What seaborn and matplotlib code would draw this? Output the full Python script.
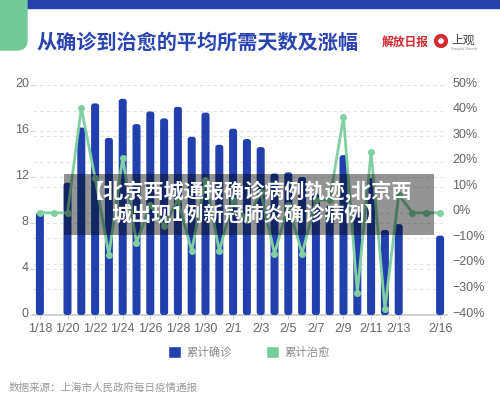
import numpy as np
import pandas as pd
import seaborn as sns
import matplotlib.pyplot as plt
from matplotlib.patches import Rectangle, FancyBboxPatch, Circle, Patch
from matplotlib.lines import Line2D
from matplotlib.transforms import blended_transform_factory, ScaledTranslation

# data
dates = ["1/18", "1/19", "1/20", "1/21", "1/22", "1/23", "1/24", "1/25", "1/26", "1/27",
         "1/28", "1/29", "1/30", "1/31", "2/1", "2/2", "2/3", "2/4", "2/5", "2/6",
         "2/7", "2/8", "2/9", "2/10", "2/11", "2/12", "2/13", "2/14", "2/15", "2/16"]
confirm_days = [8.9, np.nan, 11.5, 16.3, 18.4, 15.4, 18.8, 16.6, 17.7, 17.1,
                18.1, 15.5, 17.6, 14.8, 16.2, 15.3, 14.6, 12.3, 12.4, 12.0,
                10.5, 9.5, 13.9, 9.0, 11.9, 7.4, 7.9, np.nan, np.nan, 6.9]
cure_change = [0, 0, 0, 41, 13.6, -16.5, 21.4, -11.7, 3, -5,
               5, -15, 13, -15, 5, -3, 8, -16, 3, -16,
               5, 5, 37.5, -31.4, 23.8, -37.6, 7, 0, 0, 0]
shown_dates = ["1/18", "1/20", "1/22", "1/24", "1/26", "1/28", "1/30", "2/1", "2/3",
               "2/5", "2/7", "2/9", "2/11", "2/13", "2/16"]
left_ticks = [0, 4, 8, 12, 16, 20]
right_ticks = [-40, -30, -20, -10, 0, 10, 20, 30, 40, 50]

title = "从确诊到治愈的平均所需天数及涨幅"
series_names = ["累计确诊", "累计治愈"]
source = "数据来源：上海市人民政府每日疫情通报"
banner_lines = ["【北京西城通报确诊病例轨迹,北京西", "城出现1例新冠肺炎确诊病例】"]

BLUE = "#2140ae"
GREEN = "#80cfa2"
W, H = 500, 411


def px(x, y):
    # pixel position (from top-left) -> figure fraction
    return x / W, 1 - y / H


def main():
    sns.set_theme(style="white")
    plt.rcParams['font.family'] = ['Noto Sans CJK SC', 'DejaVu Sans']

    df = pd.DataFrame({"date": dates, "confirm": confirm_days, "cure": cure_change})

    fig = plt.figure(figsize=(W / 100, H / 100), dpi=100)
    fig.patch.set_facecolor("white")

    # header decorations
    fig.add_artist(Rectangle((0, H - 8), W, 8, transform=None, color="#2340ad", zorder=1))
    fig.add_artist(FancyBboxPatch((-20, H - 50), 47, 80, boxstyle="round,pad=0,rounding_size=10",
                                  transform=None, color="#72c99a", zorder=2))
    x, y = px(37, 42)
    fig.text(x, y, title, fontsize=14.5, fontweight="bold", color="#2a45b0", va="center")
    x, y = px(382, 42)
    fig.text(x, y, "解放日报", fontsize=8.5, color="#d42a30", va="center", fontweight="bold")
    fig.add_artist(Circle((441, H - 41), 5, transform=None, facecolor="none",
                          edgecolor="#d42a30", linewidth=3, zorder=3))
    x, y = px(451, 40)
    fig.text(x, y, "上观", fontsize=8.5, color="#444444", va="center")
    x, y = px(451, 49)
    fig.text(x, y, "Shanghai Observer", fontsize=2.2, color="#888888", va="center")

    # main axes
    ax = fig.add_axes([33 / W, (H - 315) / H, 414 / W, 230 / H])
    ax2 = ax.twinx()

    sns.barplot(data=df, x="date", y="confirm", order=dates, color=BLUE, saturation=1,
                width=0.58, errorbar=None, ax=ax, zorder=3)
    sns.pointplot(data=df, x="date", y="cure", order=dates, color=GREEN, markers="o",
                  markersize=3.5, linewidth=2, errorbar=None, ax=ax2)

    ax.set_xlim(-0.5, len(dates) - 0.5)
    ax.set_ylim(0, 20)
    ax2.set_ylim(-40, 50)

    # give the bars slightly rounded corners
    for bar in list(ax.patches):
        h = bar.get_height()
        if not np.isfinite(h) or h <= 0:
            bar.remove()
            continue
        rb = FancyBboxPatch((bar.get_x(), bar.get_y()), bar.get_width(), h,
                            boxstyle="round,pad=0,rounding_size=0.2", mutation_aspect=1.2,
                            facecolor=BLUE, edgecolor="none", zorder=3)
        bar.remove()
        ax.add_patch(rb)

    # dashed gridlines for both scales, kept under the bars
    grid_kw = dict(color="#e2e2e2", linewidth=0.8, linestyle=(0, (3, 3)), zorder=1)
    for v in left_ticks[1:]:
        ax.axhline(v, **grid_kw)
    bt = blended_transform_factory(ax.transAxes, ax2.transData)
    for v in right_ticks:
        ax.add_line(Line2D([0, 1], [v, v], transform=bt, **grid_kw))

    ax.set_yticks(left_ticks)
    ax.set_yticklabels([str(v) for v in left_ticks])
    ax2.set_yticks(right_ticks)
    ax2.set_yticklabels([f"{v}%".replace("-", "−") for v in right_ticks])
    ax.set_xticks([dates.index(d) for d in shown_dates])
    ax.set_xticklabels(shown_dates)
    ax.set_xlabel("")
    ax.set_ylabel("")
    ax2.set_ylabel("")

    for a in (ax, ax2):
        for s in a.spines.values():
            s.set_visible(False)
        a.grid(False)
    ax.spines["bottom"].set_visible(True)
    ax.spines["bottom"].set_color("#cccccc")

    ax.tick_params(axis="x", length=3, width=0.8, color="#cccccc", pad=3,
                   labelsize=9, labelcolor="#666666", bottom=True)
    ax.tick_params(axis="y", length=2, width=0.8, color="#cccccc", pad=1,
                   labelsize=9, labelcolor="#666666", left=True)
    ax2.tick_params(axis="y", length=0, pad=4, labelsize=9, labelcolor="#666666")
    lift = ScaledTranslation(0, 3 / 100, fig.dpi_scale_trans)
    for lab in ax.get_xticklabels() + ax.get_yticklabels() + ax2.get_yticklabels():
        lab.set_fontfamily(["Liberation Sans", "DejaVu Sans"])
    for lab in ax.get_yticklabels() + ax2.get_yticklabels():
        lab.set_transform(lab.get_transform() + lift)

    # semi-transparent banner with caption on top of the chart
    fig.add_artist(Rectangle((64, H - 235), 370, 61, transform=None, facecolor="black",
                             alpha=0.42, linewidth=0, zorder=10))
    for i, line in enumerate(banner_lines):
        x, y = px(248, 192 + 23 * i)
        fig.text(x, y, line, fontsize=14.5, fontweight="black", color="white",
                 ha="center", va="center", zorder=11)

    # legend
    handles = [Patch(facecolor=BLUE), Patch(facecolor="#74cd9c")]
    fig.legend(handles, series_names, loc="center", bbox_to_anchor=px(249, 352), ncol=2,
               frameon=False, fontsize=8.2, labelcolor="#888888", handlelength=1.15,
               handleheight=1.15, handletextpad=0.5, columnspacing=3.0)

    x, y = px(9, 388)
    fig.text(x, y, source, fontsize=7.6, color="#999999", va="center")

    fig.savefig("out.png", dpi=100)
    plt.close(fig)


if __name__ == "__main__":
    main()
